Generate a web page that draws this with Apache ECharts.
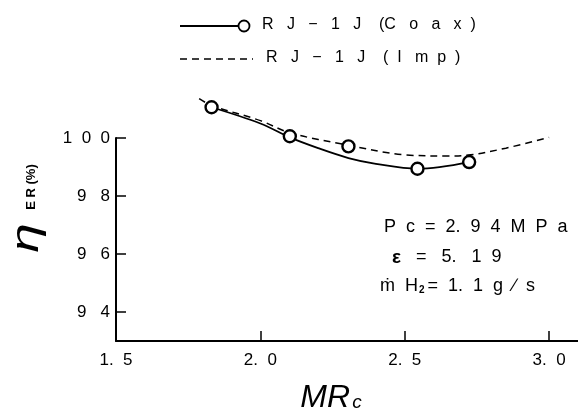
<!DOCTYPE html>
<html>
<head>
<meta charset="utf-8">
<script src="https://cdn.jsdelivr.net/npm/echarts@6/dist/echarts.min.js"></script>
<style>
  html, body { margin: 0; padding: 0; background: #fff; }
  #chart { width: 578px; height: 414px; }
</style>
</head>
<body>
<div id="chart"></div>
<script>
// Measured points, RJ-1J coaxial injector
const coaxMR  = [1.831, 2.102, 2.305, 2.544, 2.723];
const coaxEta = [101.06, 100.06, 99.71, 98.94, 99.17];

// Faired curve through the coaxial-injector points
const coaxFitMR  = [1.831, 2.0, 2.102, 2.2, 2.305, 2.4, 2.544, 2.723];
const coaxFitEta = [101.06, 100.5, 100.02, 99.65, 99.31, 99.11, 98.94, 99.17];

// Curve for the impinging injector
const impMR  = [1.788, 1.831, 2.0, 2.102, 2.305, 2.5, 2.65, 2.72, 2.85, 3.0];
const impEta = [101.36, 101.12, 100.6, 100.18, 99.75, 99.42, 99.38, 99.41, 99.65, 100.02];

// Axis ticks and their printed labels
const xTicks = [1.5, 2.0, 2.5, 3.0];
const xTickLabels = ['1.  5', '2.  0', '2.  5', '3.  0'];
const yTicks = [94, 96, 98, 100];
const yTickLabels = ['9   4', '9   6', '9   8', '1  0  0'];

const FONT = "'Liberation Sans', Arial, sans-serif";
const pairs = (xs, ys) => xs.map((x, i) => [x, ys[i]]);
const labelFor = (ticks, labels) => v => {
  const i = ticks.findIndex(t => Math.abs(t - v) < 1e-6);
  return i >= 0 ? labels[i] : '';
};

const chart = echarts.init(document.getElementById('chart'), null, { renderer: 'canvas' });

chart.setOption({
  animation: false,
  backgroundColor: '#fff',
  grid: { left: 116, right: 0, top: 138, bottom: 73 },
  xAxis: {
    type: 'value', min: 1.5, max: 3.1,
    axisLine: { lineStyle: { color: '#000', width: 2 } },
    axisTick: { inside: true, length: 10, lineStyle: { color: '#000', width: 1.5 }, customValues: xTicks.slice(1) },
    axisLabel: { customValues: xTicks, formatter: labelFor(xTicks, xTickLabels), color: '#000', fontSize: 17, fontFamily: FONT, margin: 11 },
    splitLine: { show: false }
  },
  yAxis: {
    type: 'value', min: 93, max: 100,
    axisLine: { show: true, lineStyle: { color: '#000', width: 2 } },
    axisTick: { show: true, inside: true, length: 10, lineStyle: { color: '#000', width: 1.5 }, customValues: yTicks },
    axisLabel: { customValues: yTicks, formatter: labelFor(yTicks, yTickLabels), color: '#000', fontSize: 17, fontFamily: FONT, margin: 6 },
    splitLine: { show: false }
  },
  series: [
    {
      name: 'RJ-1J (Coax) curve', type: 'line', data: pairs(coaxFitMR, coaxFitEta),
      smooth: 0.35, showSymbol: false, clip: false,
      lineStyle: { color: '#000', width: 1.8 }, z: 2
    },
    {
      name: 'RJ-1J (Imp)', type: 'line', data: pairs(impMR, impEta),
      smooth: 0.35, showSymbol: false, clip: false,
      lineStyle: { color: '#000', width: 1.5, type: [7, 5] }, z: 2
    },
    {
      name: 'RJ-1J (Coax)', type: 'scatter', data: pairs(coaxMR, coaxEta),
      symbol: 'circle', symbolSize: 12, clip: false,
      itemStyle: { color: '#fff', borderColor: '#000', borderWidth: 2.4, opacity: 1 }, z: 5
    }
  ],
  graphic: [
    // legend
    { type: 'line', shape: { x1: 180, y1: 26, x2: 238, y2: 26 }, style: { stroke: '#000', lineWidth: 1.8 } },
    { type: 'circle', shape: { cx: 244, cy: 26, r: 5.5 }, style: { fill: '#fff', stroke: '#000', lineWidth: 1.8 } },
    { type: 'text', left: 262, top: 17, style: { text: 'R   J   −   1   J    (C   o   a   x  )', font: '16px ' + FONT, fill: '#000' } },
    { type: 'line', shape: { x1: 180, y1: 59, x2: 253, y2: 59 }, style: { stroke: '#000', lineWidth: 1.5, lineDash: [7, 5] } },
    { type: 'text', left: 266, top: 50, style: { text: 'R   J   −   1   J    (  I   m  p  )', font: '16px ' + FONT, fill: '#000' } },
    // operating conditions
    { type: 'text', left: 384, top: 218, style: { text: 'P  c  =  2.  9  4  M  P  a', font: '18px ' + FONT, fill: '#000' } },
    { type: 'text', left: 392, top: 248, style: {
      text: '{e|ε}{a|   =   5.   1  9}',
      rich: {
        e: { font: 'bold 19px ' + FONT, fill: '#000' },
        a: { font: '18px ' + FONT, fill: '#000' }
      } } },
    { type: 'text', left: 380, top: 277, style: {
      text: '{a|ṁ  H}{s|2}{a|=  1.  1  g  ∕  s}',
      rich: {
        a: { font: '18px ' + FONT, fill: '#000' },
        s: { font: 'bold 10px ' + FONT, fill: '#000', verticalAlign: 'bottom', padding: [7, 3, 0, 1] }
      } } },
    // axis titles
    { type: 'text', x: 27, y: 238, rotation: Math.PI / 2, scaleX: 1.4, style: {
      text: 'η', font: 'italic 38px ' + FONT, fill: '#000', align: 'center', verticalAlign: 'middle' } },
    { type: 'text', x: 31, y: 187, rotation: Math.PI / 2, style: {
      text: '{er|E R}{p| (%)}', align: 'center', verticalAlign: 'middle',
      rich: {
        er: { font: 'bold 13px ' + FONT, fill: '#000' },
        p: { font: 'bold 13px ' + FONT, fill: '#000' }
      } } },
    { type: 'text', x: 331, y: 398, style: {
      text: '{m|MR}{c|c}', align: 'center', verticalAlign: 'middle',
      rich: {
        m: { font: 'italic 32px ' + FONT, fill: '#000' },
        c: { font: 'italic 19px ' + FONT, fill: '#000', padding: [10, 0, 0, 2] }
      } } }
  ]
});
</script>
</body>
</html>
